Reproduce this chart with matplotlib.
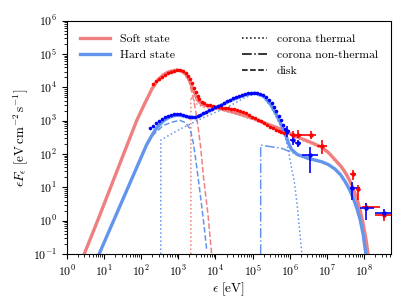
import numpy as np
import matplotlib
matplotlib.use('Agg')
import matplotlib.pyplot as plt
from matplotlib.lines import Line2D

plt.rcParams['font.family'] = 'serif'
plt.rcParams['font.serif'] = ['cmr10']
plt.rcParams['mathtext.fontset'] = 'cm'
plt.rcParams['axes.formatter.use_mathtext'] = True
plt.rcParams['axes.unicode_minus'] = False
plt.rcParams['font.size'] = 8.5

# --- model curves, log10(energy [eV]) vs log10(eF_e) ---
soft_tot_lx = [0.47, 0.83, 1.18, 1.53, 1.88, 2.10, 2.29, 2.45, 2.60, 2.75, 2.96, 3.10, 3.20,
               3.30, 3.42, 3.52, 3.65, 3.90, 4.13, 4.60, 5.02, 5.40, 5.83, 6.19, 6.55, 6.86,
               7.05, 7.22, 7.37, 7.49, 7.60, 7.70, 7.81, 7.90, 7.98, 8.05, 8.11]
soft_tot_ly = [-1.0, 0.0, 1.0, 2.0, 3.0, 3.52, 3.95, 4.22, 4.38, 4.47, 4.52, 4.49, 4.40,
               4.22, 3.88, 3.62, 3.48, 3.43, 3.37, 3.22, 3.07, 2.90, 2.72, 2.52, 2.36, 2.21,
               2.04, 1.83, 1.65, 1.46, 1.24, 0.99, 0.67, 0.30, -0.10, -0.52, -1.0]

hard_tot_lx = [0.87, 1.26, 1.65, 2.04, 2.15, 2.27, 2.38, 2.50, 2.62, 2.75, 2.85, 3.00, 3.25,
               3.45, 3.60, 4.00, 4.40, 4.80, 5.07, 5.30, 5.50, 5.65, 5.78, 5.88, 5.97, 6.05,
               6.20, 6.50, 6.86, 7.05, 7.22, 7.37, 7.49, 7.60, 7.70, 7.81, 7.90, 7.98, 8.05]
hard_tot_ly = [-1.0, 0.0, 1.0, 2.0, 2.28, 2.52, 2.72, 2.88, 3.01, 3.10, 3.14, 3.17, 3.12,
               3.09, 3.16, 3.38, 3.60, 3.78, 3.83, 3.74, 3.47, 3.17, 2.87, 2.62, 2.32, 2.14,
               1.99, 1.87, 1.77, 1.68, 1.55, 1.38, 1.18, 0.96, 0.71, 0.37, 0.02, -0.42, -1.0]

soft_disk_lx = [0.47, 0.83, 1.18, 1.53, 1.88, 2.10, 2.29, 2.45, 2.60, 2.75, 2.96, 3.10, 3.20,
                3.30, 3.40, 3.50, 3.60, 3.68, 3.80, 3.90]
soft_disk_ly = [-1.0, 0.0, 1.0, 2.0, 3.0, 3.52, 3.95, 4.22, 4.38, 4.47, 4.52, 4.48, 4.38,
                4.15, 3.70, 3.12, 2.25, 1.32, 0.20, -1.0]

soft_cth_lx = [3.34, 3.34, 3.50, 3.70, 4.13, 4.60, 5.02, 5.40, 5.83, 6.19, 6.55, 6.86, 7.05,
               7.22, 7.37, 7.49, 7.60, 7.70, 7.81, 7.90, 7.98, 8.05, 8.10]
soft_cth_ly = [-1.0, 3.72, 3.50, 3.40, 3.33, 3.18, 3.03, 2.86, 2.68, 2.48, 2.32, 2.17, 2.00,
               1.79, 1.61, 1.42, 1.20, 0.95, 0.63, 0.26, -0.14, -0.56, -1.0]

hard_disk_lx = [0.87, 1.26, 1.65, 2.04, 2.15, 2.33, 2.60, 2.87, 3.05, 3.20, 3.32, 3.41, 3.50,
                3.59, 3.68, 3.77]
hard_disk_ly = [-1.0, 0.0, 1.0, 2.0, 2.26, 2.58, 2.86, 2.97, 3.01, 2.94, 2.76, 2.32, 1.60,
                0.82, 0.0, -0.9]

hard_cth_lx = [2.53, 2.53, 3.00, 3.50, 4.00, 4.40, 4.80, 5.07, 5.30, 5.50, 5.65, 5.78, 5.88,
               5.97, 6.06, 6.12, 6.20, 6.33]
hard_cth_ly = [-1.0, 2.42, 2.72, 3.00, 3.25, 3.45, 3.70, 3.80, 3.70, 3.42, 3.08, 2.78, 2.52,
               2.10, 1.52, 1.22, 0.50, -1.0]

hard_cnt_lx = [5.22, 5.22, 5.50, 5.79, 6.10, 6.50, 6.86, 7.05, 7.22, 7.37, 7.49, 7.60, 7.70,
               7.81, 7.90, 7.98, 8.05]
hard_cnt_ly = [-1.0, 2.27, 2.22, 2.17, 2.03, 1.86, 1.76, 1.67, 1.54, 1.37, 1.17, 0.95, 0.70,
               0.36, 0.01, -0.43, -1.0]

# --- observed points (log10) ---
soft_dots_lx = [2.33, 2.41, 2.49, 2.57, 2.65, 2.73, 2.81, 2.89, 2.97, 3.05, 3.13, 3.20, 3.26,
                3.32, 3.37, 3.42, 3.47, 3.52, 3.57, 3.63, 3.70, 3.78, 3.86, 3.94, 4.02, 4.10,
                4.18, 4.26, 4.34, 4.42, 4.50, 4.58, 4.66, 4.74, 4.82, 4.90, 4.98, 5.06, 5.14,
                5.22, 5.30, 5.38, 5.46, 5.54, 5.62, 5.70, 5.78, 5.86]
soft_dots_ly = [4.10, 4.18, 4.25, 4.32, 4.38, 4.43, 4.47, 4.50, 4.52, 4.51, 4.49, 4.43, 4.35,
                4.25, 4.12, 3.98, 3.85, 3.73, 3.64, 3.57, 3.52, 3.48, 3.46, 3.44, 3.42, 3.40,
                3.39, 3.38, 3.37, 3.36, 3.35, 3.33, 3.30, 3.27, 3.23, 3.16, 3.12, 3.08, 3.03,
                2.98, 2.92, 2.87, 2.81, 2.77, 2.73, 2.69, 2.66, 2.63]

hard_dots_lx = [2.24, 2.32, 2.40, 2.48, 2.56, 2.64, 2.72, 2.80, 2.88, 2.96, 3.04, 3.12, 3.20,
                3.28, 3.36, 3.44, 3.52, 3.60, 3.68, 3.76, 3.84, 3.92, 4.00, 4.08, 4.16, 4.24,
                4.32, 4.40, 4.48, 4.56, 4.64, 4.72, 4.80, 4.88, 4.96, 5.04, 5.12, 5.20, 5.28,
                5.36, 5.44, 5.52, 5.58, 5.64, 5.70, 5.76, 5.82, 5.88, 5.93]
hard_dots_ly = [2.77, 2.85, 2.92, 2.99, 3.05, 3.10, 3.14, 3.17, 3.19, 3.20, 3.19, 3.17, 3.15,
                3.12, 3.10, 3.10, 3.13, 3.17, 3.22, 3.26, 3.31, 3.35, 3.40, 3.44, 3.48, 3.53,
                3.58, 3.62, 3.67, 3.71, 3.74, 3.77, 3.80, 3.82, 3.83, 3.84, 3.83, 3.81, 3.77,
                3.72, 3.63, 3.52, 3.40, 3.28, 3.15, 3.01, 2.87, 2.74, 2.65]

# high-energy points with error bars: centre, x range, y range (log10)
soft_hx = [6.08, 6.23, 6.57, 6.86, 7.70, 7.85, 8.06, 8.55]
soft_hx_lo = [6.01, 6.15, 6.28, 6.73, 7.63, 7.79, 7.94, 8.30]
soft_hx_hi = [6.15, 6.33, 6.71, 7.00, 7.78, 7.89, 8.43, 8.73]
soft_hy = [2.57, 2.57, 2.57, 2.24, 1.39, 0.94, 0.41, 0.18]
soft_hy_lo = [2.47, 2.47, 2.45, 1.99, 1.22, 0.62, 0.31, -0.02]
soft_hy_hi = [2.70, 2.72, 2.69, 2.42, 1.52, 1.07, 0.53, 0.22]

hard_hx = [5.94, 6.08, 6.23, 6.55, 7.67, 8.05, 8.55]
hard_hx_lo = [5.89, 6.01, 6.15, 6.33, 7.63, 7.90, 8.30]
hard_hx_hi = [6.00, 6.15, 6.31, 6.75, 7.89, 8.28, 8.73]
hard_hy = [2.69, 2.42, 2.34, 1.97, 0.97, 0.37, 0.22]
hard_hy_lo = [2.51, 2.27, 2.21, 1.42, 0.62, 0.02, 0.08]
hard_hy_hi = [2.84, 2.57, 2.42, 2.22, 1.17, 0.52, 0.35]

soft_col = 'lightcoral'
hard_col = 'cornflowerblue'


def p(v):
    return 10 ** np.array(v)


def errbar(ax, lx, lxlo, lxhi, ly, lylo, lyhi, color):
    x, y = p(lx), p(ly)
    xerr = [x - p(lxlo), p(lxhi) - x]
    yerr = [y - p(lylo), p(lyhi) - y]
    ax.errorbar(x, y, xerr=xerr, yerr=yerr, fmt='o', ms=2.2, color=color,
                elinewidth=1.2, capsize=0, zorder=5)


fig = plt.figure(figsize=(4.07, 3.05), dpi=100)
ax = fig.add_axes([0.164, 0.167, 0.796, 0.765])

# components
ax.plot(p(soft_disk_lx), p(soft_disk_ly), '--', color=soft_col, lw=1.1, zorder=1)
ax.plot(p(soft_cth_lx), p(soft_cth_ly), ':', color=soft_col, lw=1.1, zorder=1)
ax.plot(p(hard_disk_lx), p(hard_disk_ly), '--', color=hard_col, lw=1.1, zorder=1)
ax.plot(p(hard_cth_lx), p(hard_cth_ly), ':', color=hard_col, lw=1.1, zorder=1)
ax.plot(p(hard_cnt_lx), p(hard_cnt_ly), '-.', color=hard_col, lw=1.1, zorder=1)

# totals
l1, = ax.plot(p(soft_tot_lx), p(soft_tot_ly), '-', color=soft_col, lw=2.4, zorder=2)
l2, = ax.plot(p(hard_tot_lx), p(hard_tot_ly), '-', color=hard_col, lw=2.4, zorder=2)

# data
ax.plot(p(soft_dots_lx), p(soft_dots_ly), 'o', color='red', ms=2.6, mew=0, zorder=3)
ax.plot(p(hard_dots_lx), p(hard_dots_ly), 'o', color='blue', ms=2.6, mew=0, zorder=3)
errbar(ax, soft_hx, soft_hx_lo, soft_hx_hi, soft_hy, soft_hy_lo, soft_hy_hi, 'red')
errbar(ax, hard_hx, hard_hx_lo, hard_hx_hi, hard_hy, hard_hy_lo, hard_hy_hi, 'blue')

ax.set_xscale('log')
ax.set_yscale('log')
ax.set_xlim(1, 10 ** 8.72)
ax.set_ylim(0.1, 1e6)
ax.set_xlabel(r'$\epsilon\ [\mathrm{eV}]$', fontsize=9.5, labelpad=1)
ax.set_ylabel(r'$\epsilon F_\epsilon\ [\mathrm{eV\,cm^{-2}\,s^{-1}}]$', fontsize=9.5,
              labelpad=2)

leg1 = ax.legend([l1, l2], ['Soft state', 'Hard state'], loc='upper left',
                 frameon=False, handlelength=2.6, borderaxespad=0.7)
ax.add_artist(leg1)
h = [Line2D([], [], color='k', ls=':', lw=1.1),
     Line2D([], [], color='k', ls='-.', lw=1.1),
     Line2D([], [], color='k', ls='--', lw=1.1)]
ax.legend(h, ['corona thermal', 'corona non-thermal', 'disk'], loc='upper right',
          frameon=False, handlelength=2.1, borderaxespad=0.7)

fig.savefig('out.png', dpi=100)
